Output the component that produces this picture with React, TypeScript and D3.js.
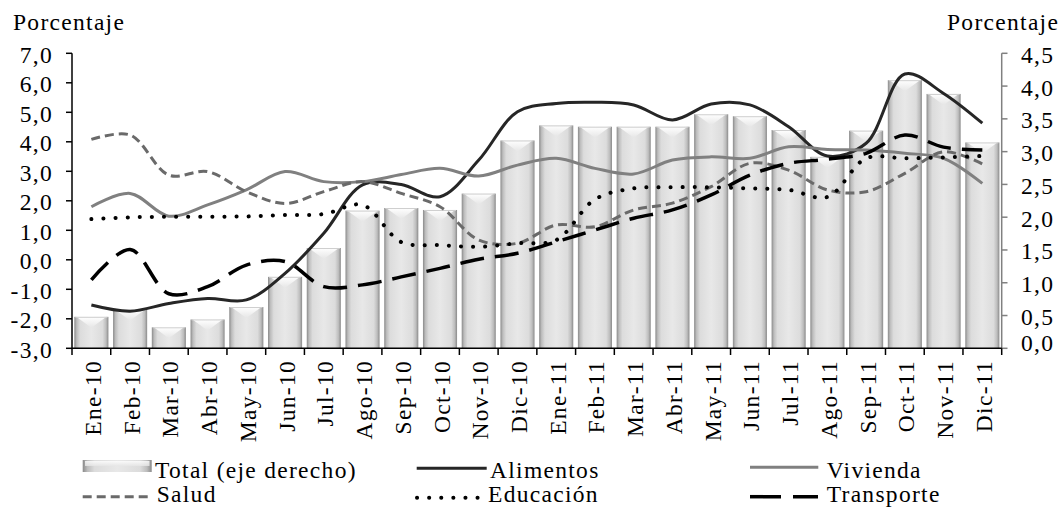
import React from "react";
import * as d3 from "d3";

const categories = ["Ene-10","Feb-10","Mar-10","Abr-10","May-10","Jun-10","Jul-10","Ago-10","Sep-10","Oct-10","Nov-10","Dic-10","Ene-11","Feb-11","Mar-11","Abr-11","May-11","Jun-11","Jul-11","Ago-11","Sep-11","Oct-11","Nov-11","Dic-11"];

const total = [0.48,0.59,0.32,0.44,0.63,1.09,1.53,2.10,2.14,2.11,2.36,3.17,3.40,3.38,3.38,3.38,3.57,3.54,3.33,2.92,3.32,4.09,3.88,3.14];
const alimentos = [-1.53,-1.74,-1.48,-1.31,-1.36,-0.46,0.90,2.54,2.55,2.14,3.38,5.02,5.30,5.34,5.25,4.74,5.28,5.25,4.51,3.52,3.95,6.30,5.64,4.63];
const vivienda = [1.80,2.25,1.48,1.86,2.37,2.99,2.65,2.65,2.89,3.10,2.84,3.21,3.44,3.10,2.91,3.38,3.49,3.44,3.83,3.74,3.72,3.61,3.44,2.59];
const salud = [4.08,4.23,2.87,2.99,2.31,1.91,2.31,2.65,2.25,1.80,0.67,0.56,1.18,1.12,1.69,1.92,2.48,3.27,3.04,2.37,2.31,2.93,3.66,3.25];
const educacion = [1.38,1.44,1.46,1.46,1.47,1.52,1.55,1.86,0.60,0.50,0.44,0.56,0.67,2.05,2.42,2.46,2.46,2.42,2.37,2.13,3.44,3.44,3.47,3.52];
const transporte = [-0.68,0.35,-1.15,-0.91,-0.18,-0.06,-0.91,-0.85,-0.58,-0.29,0.02,0.22,0.61,1.01,1.41,1.69,2.2,2.87,3.27,3.41,3.61,4.23,3.82,3.72];

const leftTicks = [-3,-2,-1,0,1,2,3,4,5,6,7];
const rightTicks = [0,0.5,1,1.5,2,2.5,3,3.5,4,4.5];

const FONT = "Liberation Serif";
const FS = 23.5;
const LS = 1.3;

export default function App() {
  const x = d3.scaleBand<string>().domain(categories).range([72, 1001.7]).paddingInner(0.12).paddingOuter(0.06);
  const bw = x.bandwidth();
  const step = x.step();
  const yL = d3.scaleLinear().domain([-3, 7]).range([348.3, 53.3]);
  const yR = d3.scaleLinear().domain([0, 4.5]).range([348.3, 53.3]);
  const cx = (i: number) => (x(categories[i]) as number) + bw / 2;
  const line = d3.line<number>().x((_, i) => cx(i)).y(d => yL(d)).curve(d3.curveCatmullRom.alpha(0.5));
  const fmt = (v: number) => v.toFixed(1).replace(".", ",");

  const series = [
    { name: "Alimentos", data: alimentos, stroke: "#262626", width: 3, dash: undefined as string | undefined, cap: "butt" },
    { name: "Vivienda", data: vivienda, stroke: "#808080", width: 3, dash: undefined, cap: "butt" },
    { name: "Salud", data: salud, stroke: "#6a6a6a", width: 3, dash: "9 5", cap: "butt" },
    { name: "Educación", data: educacion, stroke: "#000000", width: 4, dash: "0.1 12", cap: "round" },
    { name: "Transporte", data: transporte, stroke: "#000000", width: 3.5, dash: "24 11", cap: "butt" },
  ];
  const tp = { fontFamily: FONT, fontSize: FS, letterSpacing: LS, fill: "#000" } as any;
  const boundaries = d3.range(categories.length + 1).map(i => 72 + i * step);

  const legendLines = [
    { s: series[0], x0: 416.7, x1: 486.7, y: 468.3, tx: 490, ty: 478 },
    { s: series[1], x0: 750, x1: 818.3, y: 467.3, tx: 826.7, ty: 478 },
    { s: series[2], x0: 82.7, x1: 151.7, y: 496.7, tx: 156.7, ty: 502 },
    { s: series[3], x0: 417, x1: 480, y: 497.7, tx: 488, ty: 502 },
    { s: series[4], x0: 750, x1: 818, y: 496.7, tx: 826.7, ty: 502 },
  ];

  return (
    <svg width={1063} height={512} fontFamily={FONT} style={{ position: "absolute", left: 0, top: 0, background: "#fff" }}>
      <defs>
        <linearGradient id="barGrad" x1="0" x2="1" y1="0" y2="0">
          <stop offset="0" stopColor="#8a8a8a" />
          <stop offset="0.07" stopColor="#bdbdbd" />
          <stop offset="0.17" stopColor="#dcdcdc" />
          <stop offset="0.5" stopColor="#e8e8e8" />
          <stop offset="0.83" stopColor="#dcdcdc" />
          <stop offset="0.93" stopColor="#bdbdbd" />
          <stop offset="1" stopColor="#8a8a8a" />
        </linearGradient>
        <linearGradient id="bevelGrad" x1="0" x2="0" y1="0" y2="1">
          <stop offset="0" stopColor="#ffffff" />
          <stop offset="1" stopColor="#e6e6e6" />
        </linearGradient>
      </defs>
      <rect x={0} y={0} width={1063} height={512} fill="#fff" />

      {total.map((v, i) => {
        const x0 = x(categories[i]) as number;
        const top = yR(v);
        const bot = yR(0);
        return (
          <g key={"b" + i}>
            <rect x={x0} y={top} width={bw} height={bot - top} fill="url(#barGrad)" />
            <polygon
              points={`${x0 + 2},${top} ${x0 + bw - 2},${top} ${x0 + bw * 0.5},${top + 11}`}
              fill="url(#bevelGrad)"
            />
            <line x1={x0 + 1} x2={x0 + bw - 1} y1={top + 0.5} y2={top + 0.5} stroke="#cfcfcf" strokeWidth={1} />
          </g>
        );
      })}

      {series.map(s => (
        <path key={s.name} d={line(s.data) || ""} fill="none" stroke={s.stroke} strokeWidth={s.width}
          strokeDasharray={s.dash} strokeLinecap={s.cap as any} strokeLinejoin="round" />
      ))}

      <line x1={72} x2={72} y1={53.3} y2={348.3} stroke="#000" strokeWidth={1.5} />
      {leftTicks.map(t => (
        <g key={"l" + t}>
          <line x1={66} x2={72} y1={yL(t)} y2={yL(t)} stroke="#000" strokeWidth={1.5} />
          <text x={53} y={yL(t) + 9.5} textAnchor="end" {...tp}>{fmt(t)}</text>
        </g>
      ))}

      <line x1={1001.7} x2={1001.7} y1={53.3} y2={348.3} stroke="#808080" strokeWidth={1.5} />
      {rightTicks.map(t => (
        <g key={"r" + t}>
          <line x1={1001.7} x2={1007.5} y1={yR(t)} y2={yR(t)} stroke="#808080" strokeWidth={1.5} />
          <text x={1021} y={yR(t) + 9.5 - (t === 0 ? 7 : 0)} textAnchor="start" {...tp}>{fmt(t)}</text>
        </g>
      ))}

      <line x1={72} x2={1001.7} y1={348.3} y2={348.3} stroke="#000" strokeWidth={1.5} />
      {boundaries.map((b, i) => (
        <line key={"xt" + i} x1={b} x2={b} y1={348.3} y2={355} stroke="#000" strokeWidth={1.5} />
      ))}
      {categories.map((c, i) => (
        <text key={c} transform={`translate(${cx(i) + 9.5},${360}) rotate(-90)`} textAnchor="end" {...tp}>{c}</text>
      ))}

      <text x={13} y={30} {...tp}>Porcentaje</text>
      <text x={947} y={30} {...tp}>Porcentaje</text>

      <g>
        <rect x={82.7} y={460} width={69} height={12} fill="url(#barGrad)" />
        <rect x={85} y={461} width={64.5} height={5} fill="url(#bevelGrad)" opacity={0.8} />
        <text x={155} y={478} {...tp}>Total (eje derecho)</text>
        {legendLines.map(l => (
          <g key={"lg" + l.s.name}>
            <line x1={l.x0} x2={l.x1} y1={l.y} y2={l.y} stroke={l.s.stroke} strokeWidth={l.s.width}
              strokeDasharray={l.s.name === "Transporte" ? "31 12" : l.s.dash} strokeLinecap={l.s.cap as any} />
            <text x={l.tx} y={l.ty} {...tp}>{l.s.name}</text>
          </g>
        ))}
      </g>
    </svg>
  );
}
